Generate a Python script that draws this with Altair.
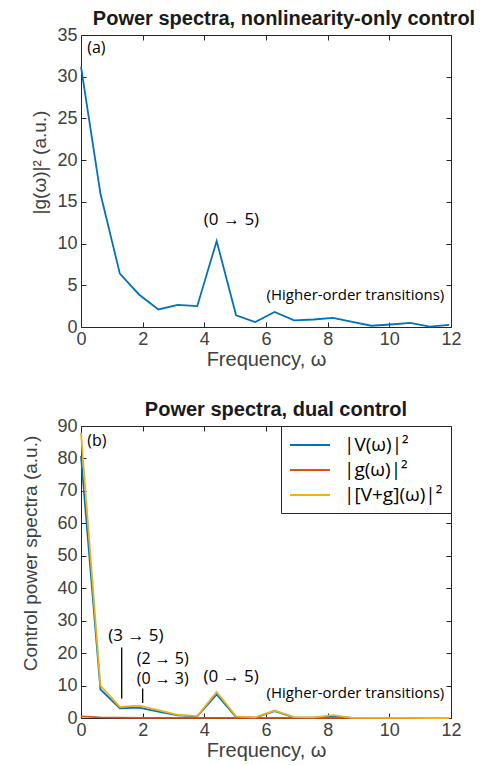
import altair as alt
import pandas as pd

# ---------------- data ----------------
freq = [0.0, 0.63, 1.26, 1.88, 2.51, 3.14, 3.77, 4.40, 5.03, 5.65,
        6.28, 6.91, 7.54, 8.17, 8.80, 9.42, 10.05, 10.68, 11.31, 11.94]
g_only = [31.2, 16.0, 6.4, 3.9, 2.1, 2.65, 2.5, 10.3, 1.4, 0.6,
          1.8, 0.8, 0.9, 1.1, 0.6, 0.15, 0.3, 0.5, 0.05, 0.25]
V_dual = [80.8, 8.8, 3.0, 3.2, 2.0, 0.8, 0.5, 7.3, 0.3, 0.1,
          2.1, 0.2, 0.1, 0.6, 0.05, 0.02, 0.01, 0.01, 0.0, 0.0]
g_dual = [0.5, 0.2, 0.1, 0.06, 0.04, 0.03, 0.03, 0.06, 0.02, 0.01,
          0.02, 0.01, 0.01, 0.01, 0.01, 0.0, 0.0, 0.0, 0.0, 0.0]
Vg_dual = [87.9, 10.0, 3.4, 3.8, 2.4, 1.0, 0.6, 8.0, 0.5, 0.2,
           2.3, 0.3, 0.2, 0.9, 0.05, 0.02, 0.01, 0.01, 0.0, 0.0]

series_names = ["|V(ω)|²", "|g(ω)|²", "|[V+g](ω)|²"]
series_colors = ["#0072BD", "#D95319", "#EDB120"]

x_ticks = [0, 2, 4, 6, 8, 10, 12]
y_ticks_a = [0, 5, 10, 15, 20, 25, 30, 35]
y_ticks_b = [0, 10, 20, 30, 40, 50, 60, 70, 80, 90]

ann_a_text = ["(0 → 5)", "(Higher-order transitions)", "(a)"]
ann_a_x = [4.88, 8.9, 0.2]
ann_a_y = [12.8, 3.8, 33.4]
ann_a_size = [17, 15, 16]
ann_a_align = ["center", "center", "left"]

ann_b_text = ["(3 → 5)", "(2 → 5)", "(0 → 3)", "(0 → 5)", "(Higher-order transitions)", "(b)"]
ann_b_x = [1.78, 2.65, 2.65, 4.87, 8.9, 0.2]
ann_b_y = [25.4, 18.3, 12.0, 12.6, 7.6, 85.4]
ann_b_size = [17, 16, 16, 17, 15, 16]
ann_b_align = ["center", "center", "center", "center", "center", "left"]

lead_x = [1.32, 2.0]
lead_y1 = [21.7, 9.1]
lead_y2 = [6.0, 4.6]

# ---------------- style ----------------
W, H = 370, 292
AX_COL = "#262626"
LAB_COL = "#404040"
FONT = "Liberation Sans"
ANN_FONT = "Open Sans"
TICK = 5


def x_axis(orient="bottom"):
    if orient == "bottom":
        return alt.Axis(values=x_ticks, title="Frequency, ω", orient="bottom",
                        domain=False, ticks=True, tickSize=TICK, offset=-TICK,
                        tickColor=AX_COL, labelPadding=3, labelFontSize=18,
                        labelColor=LAB_COL, labelFont=FONT, titleFont=FONT,
                        titleFontSize=20, titleFontWeight="normal", titleColor=LAB_COL,
                        titlePadding=1, grid=False, labelFlush=False)
    return alt.Axis(values=x_ticks, title=None, orient="top", labels=False,
                    domain=False, ticks=True, tickSize=TICK, offset=-TICK,
                    tickColor=AX_COL, grid=False)


def y_axis(vals, title, tx, ty, orient="left"):
    if orient == "left":
        return alt.Axis(values=vals, title=title, orient="left", domain=False,
                        ticks=True, tickSize=TICK, offset=-TICK, tickColor=AX_COL,
                        labelPadding=4, labelFontSize=18, labelColor=LAB_COL,
                        labelFont=FONT, titleFont=FONT, titleFontSize=19,
                        titleFontWeight="normal", titleColor=LAB_COL,
                        titleX=tx, titleY=ty, titleAngle=-90, titleBaseline="middle",
                        titleAlign="center", grid=False, labelFlush=False)
    return alt.Axis(values=vals, title=None, orient="right", labels=False,
                    domain=False, ticks=True, tickSize=TICK, offset=-TICK,
                    tickColor=AX_COL, grid=False)


xs = alt.Scale(domain=[0, 12], nice=False, zero=False)


def text_layers(df, ys):
    layers = []
    for a in ["center", "left"]:
        sub = df[df.a == a]
        layers.append(alt.Chart(sub).mark_text(
            font=ANN_FONT, color="black", baseline="middle", align=a).encode(
            x=alt.X("x:Q", scale=xs, axis=None), y=alt.Y("y:Q", scale=ys, axis=None),
            text="t:N", size=alt.Size("s:Q", scale=None)))
    return layers


# ---------------- panel (a) ----------------
df_a = pd.DataFrame({"freq": freq, "val": g_only})
ys_a = alt.Scale(domain=[0, 35], nice=False)

line_a = alt.Chart(df_a).mark_line(color="#0072BD", strokeWidth=1.8).encode(
    x=alt.X("freq:Q", scale=xs, axis=x_axis("bottom")),
    y=alt.Y("val:Q", scale=ys_a, axis=y_axis(y_ticks_a, "|g(ω)|²  (a.u.)", -47, 127)),
)
frame_a = alt.Chart(df_a).mark_line(opacity=0).encode(
    x=alt.X("freq:Q", scale=xs, axis=x_axis("top")),
    y=alt.Y("val:Q", scale=ys_a, axis=y_axis(y_ticks_a, None, 0, 0, "right")),
)
ann_a = pd.DataFrame({"t": ann_a_text, "x": ann_a_x, "y": ann_a_y,
                      "s": ann_a_size, "a": ann_a_align})

panel_a = alt.layer(line_a, frame_a, *text_layers(ann_a, ys_a)).resolve_axis(
    x="independent", y="independent").properties(
    width=W, height=H,
    title=alt.TitleParams("Power spectra, nonlinearity-only control", font=FONT,
                          fontSize=20, fontWeight="bold", color="#1a1a1a",
                          anchor="middle", dx=18, offset=-3))

# ---------------- panel (b) ----------------
rows = []
for name, vals in zip(series_names, [V_dual, g_dual, Vg_dual]):
    for f, v in zip(freq, vals):
        rows.append({"freq": f, "val": v, "series": name})
df_b = pd.DataFrame(rows)
ys_b = alt.Scale(domain=[0, 90], nice=False)

line_b = alt.Chart(df_b).mark_line(strokeWidth=1.8).encode(
    x=alt.X("freq:Q", scale=xs, axis=x_axis("bottom")),
    y=alt.Y("val:Q", scale=ys_b,
            axis=y_axis(y_ticks_b, "Control power spectra  (a.u.)", -56, 127)),
    color=alt.Color("series:N", sort=series_names,
                    scale=alt.Scale(domain=series_names, range=series_colors),
                    legend=alt.Legend(title=None, orient="top-right", offset=0,
                                      strokeColor=AX_COL, fillColor="white",
                                      padding=8, symbolType="M-2,0H2", symbolSize=400,
                                      symbolOffset=10,
                                      symbolStrokeWidth=2, labelFont=ANN_FONT,
                                      labelFontSize=19, labelColor="black",
                                      rowPadding=4, labelOffset=23, labelLimit=300,
                                      labelExpr="datum.label + '\u2003'")),
)
frame_b = alt.Chart(df_b).mark_line(opacity=0).encode(
    x=alt.X("freq:Q", scale=xs, axis=x_axis("top")),
    y=alt.Y("val:Q", scale=ys_b, axis=y_axis(y_ticks_b, None, 0, 0, "right")),
)
ann_b = pd.DataFrame({"t": ann_b_text, "x": ann_b_x, "y": ann_b_y,
                      "s": ann_b_size, "a": ann_b_align})
lead = pd.DataFrame({"x": lead_x, "y1": lead_y1, "y2": lead_y2})
rules_b = alt.Chart(lead).mark_rule(color="black", strokeWidth=1.3).encode(
    x=alt.X("x:Q", scale=xs, axis=None), y=alt.Y("y1:Q", scale=ys_b, axis=None), y2="y2:Q")

panel_b = alt.layer(line_b, frame_b, rules_b, *text_layers(ann_b, ys_b)).resolve_axis(
    x="independent", y="independent").properties(
    width=W, height=H,
    title=alt.TitleParams("Power spectra, dual control", font=FONT,
                          fontSize=20, fontWeight="bold", color="#1a1a1a",
                          anchor="middle", dx=10, offset=-3))

chart = alt.vconcat(panel_a, panel_b, spacing=29).resolve_scale(
    color="independent", x="independent", y="independent").properties(
    padding={"left": 12, "top": 0, "right": 5, "bottom": 0}
).configure_view(stroke=AX_COL, strokeWidth=1)

chart.save("out.html", embed_options={"renderer": "svg", "actions": False})
